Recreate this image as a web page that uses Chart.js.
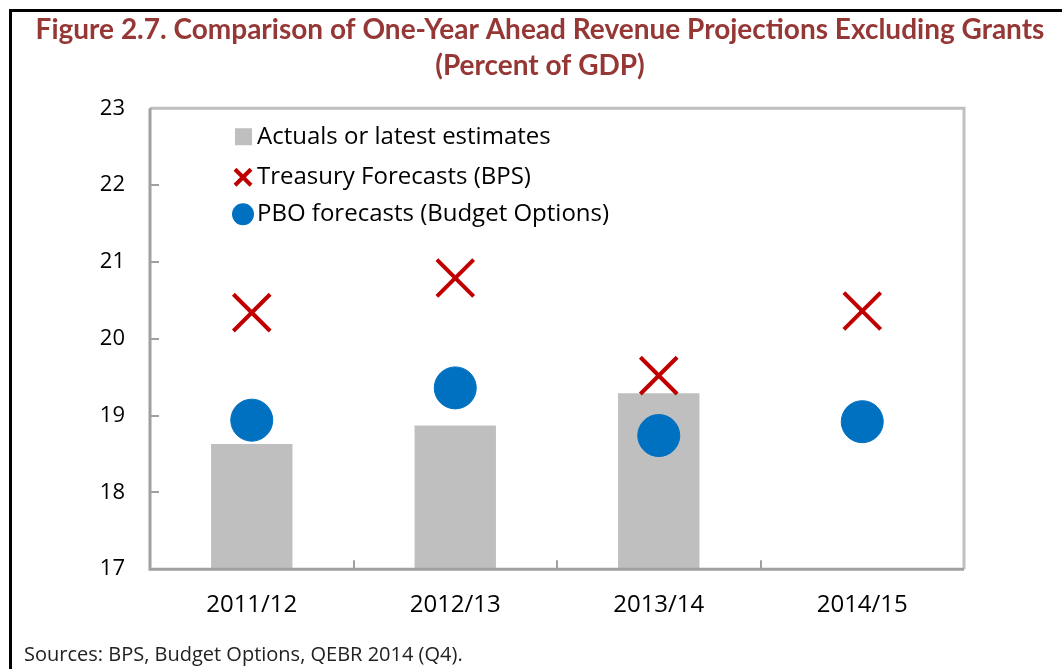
<!DOCTYPE html>
<html>
<head>
<meta charset="utf-8">
<script src="https://cdn.jsdelivr.net/npm/chart.js@4/dist/chart.umd.min.js"></script>
<style>
    body { margin: 0; background: #fff; }
    #frame { position: absolute; left: 9px; top: 9px; right: -5px; bottom: -5px; border-left: 3px solid #000; border-top: 3px solid #000; }
    #chart { position: absolute; left: 0; top: 0; }
</style>
</head>
<body>
<div id="frame"></div>
<canvas id="chart" width="1062" height="669"></canvas>
<script>
var categories = ['2011/12', '2012/13', '2013/14', '2014/15']
var actuals = [18.63, 18.87, 19.29, null]
var treasury = [20.34, 20.79, 19.52, 20.36]
var pbo = [18.94, 19.36, 18.74, 18.92]
var yTicks = [17, 18, 19, 20, 21, 22, 23]

var seriesNames = ['Actuals or latest estimates', 'Treasury Forecasts (BPS)', 'PBO forecasts (Budget Options)']

// frame round the plot, with the short inward tick marks
var framePlugin = {
    id: 'frame',
    afterDatasetsDraw: function (chart) {
        var ctx = chart.ctx
        var a = chart.chartArea
        var x = chart.scales.x
        var y = chart.scales.y
        ctx.save()
        ctx.lineWidth = 3
        ctx.strokeStyle = '#bfbfbf'
        ctx.beginPath()
        ctx.moveTo(a.left, a.top)
        ctx.lineTo(a.right, a.top)
        ctx.lineTo(a.right, a.bottom)
        ctx.stroke()
        ctx.strokeStyle = '#a0a0a0'
        ctx.beginPath()
        ctx.moveTo(a.left, a.top)
        ctx.lineTo(a.left, a.bottom)
        ctx.lineTo(a.right, a.bottom)
        ctx.stroke()
        ctx.lineWidth = 2
        yTicks.slice(1, -1).forEach(function (v) {
            var py = Math.round(y.getPixelForValue(v))
            ctx.beginPath()
            ctx.moveTo(a.left, py)
            ctx.lineTo(a.left + 9, py)
            ctx.stroke()
        })
        for (var i = 0; i < categories.length - 1; i++) {
            var px = Math.round((x.getPixelForValue(i) + x.getPixelForValue(i + 1)) / 2)
            ctx.beginPath()
            ctx.moveTo(px, a.bottom)
            ctx.lineTo(px, a.bottom - 9)
            ctx.stroke()
        }
        ctx.restore()
    }
}

// legend sits inside the plot, top left
var legendPlugin = {
    id: 'innerLegend',
    afterDraw: function (chart) {
        var ctx = chart.ctx
        var a = chart.chartArea
        var cx = a.left + 93
        var tx = a.left + 107
        var rows = [a.top + 29, a.top + 69, a.top + 106]
        ctx.save()
        ctx.fillStyle = '#bfbfbf'
        ctx.fillRect(cx - 8, rows[0] - 9, 17, 17)
        ctx.strokeStyle = '#c00000'
        ctx.lineWidth = 4
        ctx.beginPath()
        ctx.moveTo(cx - 8, rows[1] - 8)
        ctx.lineTo(cx + 8, rows[1] + 8)
        ctx.moveTo(cx + 8, rows[1] - 8)
        ctx.lineTo(cx - 8, rows[1] + 8)
        ctx.stroke()
        ctx.fillStyle = '#0070c0'
        ctx.beginPath()
        ctx.arc(cx, rows[2], 11, 0, Math.PI * 2)
        ctx.fill()
        ctx.fillStyle = '#000'
        ctx.font = '24px "Open Sans"'
        ctx.textBaseline = 'middle'
        seriesNames.forEach(function (name, i) {
            ctx.fillText(name, tx, rows[i])
        })
        ctx.restore()
    }
}

new Chart(document.getElementById('chart').getContext('2d'), {
    type: 'bar',
    data: {
        labels: categories,
        datasets: [
            {
                label: seriesNames[0],
                data: actuals,
                backgroundColor: '#bfbfbf',
                categoryPercentage: 0.4,
                barPercentage: 1.0,
                order: 2
            },
            {
                type: 'line',
                label: seriesNames[1],
                data: treasury,
                showLine: false,
                pointStyle: 'crossRot',
                pointRadius: 26,
                pointBorderColor: '#c00000',
                pointBorderWidth: 4,
                order: 1
            },
            {
                type: 'line',
                label: seriesNames[2],
                data: pbo,
                showLine: false,
                pointStyle: 'circle',
                pointRadius: 21,
                pointBackgroundColor: '#0070c0',
                pointBorderColor: '#0070c0',
                pointBorderWidth: 1,
                order: 1
            }
        ]
    },
    options: {
        responsive: false,
        animation: false,
        layout: { padding: { left: 24, right: 6, top: 4, bottom: 2 } },
        plugins: {
            legend: { display: false },
            tooltip: { enabled: false },
            title: {
                display: true,
                text: ['Figure 2.7. Comparison of One-Year Ahead Revenue Projections Excluding Grants', '(Percent of GDP)'],
                color: '#953735',
                font: { family: 'Lato', size: 28, weight: 'bold', lineHeight: 1.29 },
                padding: { top: 8, bottom: 24 }
            },
            subtitle: {
                display: true,
                position: 'bottom',
                align: 'start',
                text: 'Sources: BPS, Budget Options, QEBR 2014 (Q4).',
                color: '#222',
                font: { family: 'Open Sans', size: 20 },
                padding: { top: 9, bottom: 0 }
            }
        },
        scales: {
            x: {
                grid: { display: false },
                border: { display: false },
                ticks: { color: '#000', font: { family: 'Open Sans', size: 24 }, padding: 14 }
            },
            y: {
                min: 17,
                max: 23,
                grid: { display: false },
                border: { display: false },
                afterFit: function (scale) { scale.width = 126 },
                afterBuildTicks: function (scale) { scale.ticks = yTicks.map(function (v) { return { value: v } }) },
                ticks: { color: '#000', font: { family: 'Open Sans', size: 22 }, padding: 17 }
            },
            y2: {
                position: 'right',
                grid: { display: false },
                border: { display: false },
                ticks: { display: false },
                afterFit: function (scale) { scale.width = 92 }
            }
        }
    },
    plugins: [framePlugin, legendPlugin]
})
</script>
</body>
</html>
